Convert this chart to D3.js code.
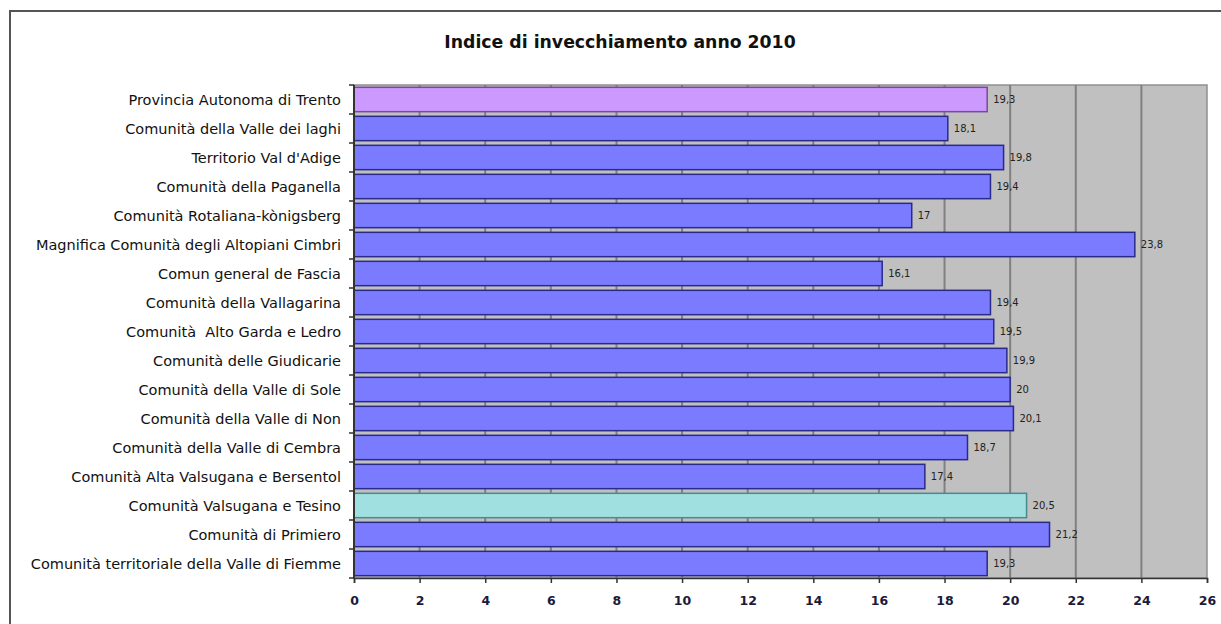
<!DOCTYPE html>
<html><head><meta charset="utf-8">
<script src="https://cdn.jsdelivr.net/npm/d3@7"></script>
<style>body{margin:0;background:#fff}svg{display:block}</style>
</head><body>
<script>
const title = "Indice di invecchiamento anno 2010";
const categories = [
  "Provincia Autonoma di Trento",
  "Comunità della Valle dei laghi",
  "Territorio Val d'Adige",
  "Comunità della Paganella",
  "Comunità Rotaliana-kònigsberg",
  "Magnifica Comunità degli Altopiani Cimbri",
  "Comun general de Fascia",
  "Comunità della Vallagarina",
  "Comunità  Alto Garda e Ledro",
  "Comunità delle Giudicarie",
  "Comunità della Valle di Sole",
  "Comunità della Valle di Non",
  "Comunità della Valle di Cembra",
  "Comunità Alta Valsugana e Bersentol",
  "Comunità Valsugana e Tesino",
  "Comunità di Primiero",
  "Comunità territoriale della Valle di Fiemme"
];
const values = [19.3, 18.1, 19.8, 19.4, 17, 23.8, 16.1, 19.4, 19.5, 19.9, 20, 20.1, 18.7, 17.4, 20.5, 21.2, 19.3];
const xTicks = [0,2,4,6,8,10,12,14,16,18,20,22,24,26];

const W = 1221, H = 624;
const svg = d3.select("body").append("svg").attr("width", W).attr("height", H);

// outer chart border
svg.append("path").attr("d", `M${W+5},11 L10,11 L10,${H+5}`)
  .attr("fill","none").attr("stroke","#555").attr("stroke-width",2);

const x0 = 354, x1 = 1207, y0 = 85, y1 = 578;
const x = d3.scaleLinear().domain([0, 26]).range([x0, x1]);
const y = d3.scaleBand().domain(categories).range([y0, y1]).paddingInner(0.16).paddingOuter(0.08);

// plot background
svg.append("rect").attr("x", x0).attr("y", y0).attr("width", x1 - x0).attr("height", y1 - y0)
  .attr("fill", "#c0c0c0").attr("stroke", "#909090").attr("stroke-width", 1.5);

// gridlines
svg.append("g").selectAll("line").data(xTicks.slice(1, -1)).join("line")
  .attr("x1", d => x(d)).attr("x2", d => x(d)).attr("y1", y0).attr("y2", y1)
  .attr("stroke", "#808080").attr("stroke-width", 2);

// bars
const colorOf = (c, i) => i === 0 ? "#cc99ff" : (c === "Comunità Valsugana e Tesino" ? "#a0e0e0" : "#7b7bff");
const strokeOf = (c, i) => i === 0 ? "#7a4a9a" : (c === "Comunità Valsugana e Tesino" ? "#4a8a8a" : "#2a2a88");
svg.append("g").selectAll("rect").data(categories).join("rect")
  .attr("x", x(0)).attr("y", d => y(d))
  .attr("width", (d, i) => x(values[i]) - x(0)).attr("height", y.bandwidth())
  .attr("fill", (d, i) => colorOf(d, i)).attr("stroke", (d, i) => strokeOf(d, i)).attr("stroke-width", 1.5);

// value labels
svg.append("g").selectAll("text").data(categories).join("text")
  .attr("x", (d, i) => x(values[i]) + 6).attr("y", d => y(d) + y.bandwidth() / 2 + 3.5)
  .attr("font-family", "DejaVu Sans, sans-serif").attr("font-size", 10).attr("fill", "#222")
  .text((d, i) => String(values[i]).replace(".", ","));

// left axis line and ticks
svg.append("line").attr("x1", x0).attr("x2", x0).attr("y1", y0).attr("y2", y1)
  .attr("stroke", "#333").attr("stroke-width", 2);
const step = (y1 - y0) / categories.length;
svg.append("g").selectAll("line").data(d3.range(categories.length + 1)).join("line")
  .attr("x1", x0 - 5).attr("x2", x0).attr("y1", i => y0 + i * step).attr("y2", i => y0 + i * step)
  .attr("stroke", "#333").attr("stroke-width", 1.5);

// category labels
svg.append("g").selectAll("text").data(categories).join("text")
  .attr("x", 341).attr("y", d => y(d) + y.bandwidth() / 2 + 5)
  .attr("text-anchor", "end").attr("font-family", "DejaVu Sans, sans-serif")
  .attr("font-size", 14.5).attr("fill", "#111").attr("xml:space","preserve").text(d => d);

// bottom axis
const xAxis = d3.axisBottom(x).tickValues(xTicks).tickSize(5).tickPadding(13);
const gx = svg.append("g").attr("transform", `translate(0,${y1})`).call(xAxis);
gx.select(".domain").attr("stroke", "#333").attr("stroke-width", 1.5);
gx.selectAll(".tick line").attr("stroke", "#333").attr("stroke-width", 1.5);
gx.selectAll(".tick text").attr("font-family", "DejaVu Sans, sans-serif").attr("font-size", 12.5)
  .attr("font-weight", "bold").attr("fill", "#1a1a3a");

// title
svg.append("text").attr("x", 620).attr("y", 48).attr("text-anchor", "middle")
  .attr("font-family", "DejaVu Sans, sans-serif").attr("font-weight", "bold").attr("font-size", 17.3)
  .attr("fill", "#111").text(title);
</script>
</body></html>
